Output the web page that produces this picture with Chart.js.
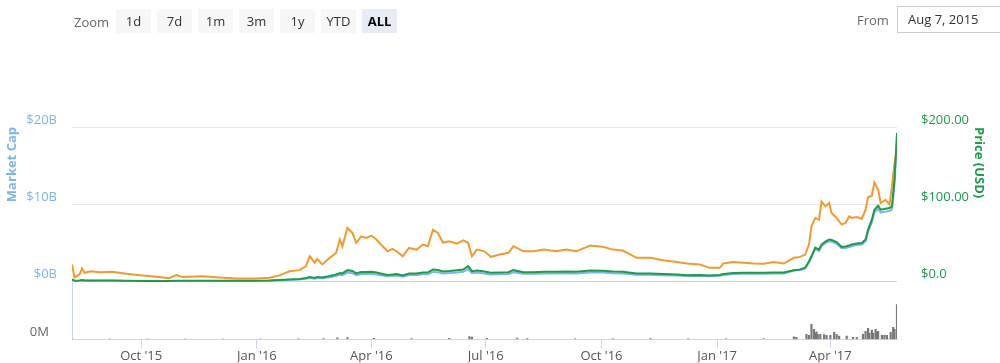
<!DOCTYPE html>
<html>
<head>
<meta charset="utf-8">
<title>Ethereum market cap</title>
<script src="https://cdn.jsdelivr.net/npm/chart.js@4.4.1/dist/chart.umd.min.js"></script>
<style>
  body { margin: 0; background: #fff; font-family: "Open Sans", sans-serif; }
  #wrap { position: relative; width: 1000px; height: 363px; overflow: hidden; }
  #ethChart { position: absolute; left: 0; top: 0; }
  .zoom-label { position: absolute; left: 74px; top: 10px; font-size: 13px; color: #666; line-height: 24px; }
  .btn { position: absolute; top: 9px; width: 35px; height: 24px; line-height: 24px; text-align: center;
         background: #f7f7f7; color: #333; font-size: 13px; }
  .btn.active { background: #e6ebf5; color: #000; font-weight: bold; }
  .from-label { position: absolute; left: 857px; top: 8px; font-size: 13px; color: #666; line-height: 24px; }
  .from-box { position: absolute; left: 897px; top: 6px; width: 120px; height: 25px; border: 1px solid #ccc;
              font-size: 13px; color: #333; line-height: 25px; padding-left: 10px; }
</style>
</head>
<body>
<div id="wrap">
  <canvas id="ethChart" width="1000" height="363"></canvas>
  <div class="zoom-label">Zoom</div>
  <div class="btn" style="left:116px">1d</div>
  <div class="btn" style="left:157px">7d</div>
  <div class="btn" style="left:198px">1m</div>
  <div class="btn" style="left:239px">3m</div>
  <div class="btn" style="left:280px">1y</div>
  <div class="btn" style="left:321px">YTD</div>
  <div class="btn active" style="left:362px">ALL</div>
  <div class="from-label">From</div>
  <div class="from-box">Aug 7, 2015</div>
</div>
<script>
// days since Aug 7, 2015
const days = [
  0, 2, 6, 8, 10, 15, 22, 32, 43, 56,
  69, 77, 83, 88, 104, 117, 130, 146, 157, 165,
  173, 181, 186, 189, 193, 195, 199, 205, 210, 213,
  215, 219, 223, 226, 230, 234, 238, 242, 247, 251,
  255, 258, 263, 268, 274, 279, 283, 287, 291, 295,
  300, 306, 311, 315, 318, 322, 328, 333, 340, 347,
  351, 359, 367, 375, 385, 393, 401, 412, 422, 430,
  438, 449, 460, 470, 481, 489, 499, 507, 515, 518,
  526, 534, 542, 550, 558, 566, 574, 579, 583, 586,
  588, 591, 594, 596, 599, 602, 604, 608, 612, 615,
  618, 620, 624, 628, 631, 633, 636, 638, 641, 643,
  647, 650, 652, 654, 656
];

// USD
const priceUsd = [
  2.84, 0.77, 1.29, 1.94, 1.29, 1.29, 1.29, 1.29, 0.90, 0.65,
  0.65, 0.52, 0.90, 0.77, 0.90, 0.90, 0.90, 0.90, 1.29, 1.94,
  2.58, 3.23, 4.52, 5.81, 4.52, 5.81, 5.16, 7.10, 9.03, 10.97,
  10.32, 14.58, 13.55, 10.32, 12.26, 12.26, 12.52, 11.61, 9.68, 8.39,
  9.03, 9.68, 7.74, 10.32, 10.32, 11.61, 11.61, 15.48, 14.84, 12.90,
  13.55, 14.58, 15.48, 19.74, 13.29, 14.19, 12.90, 11.23, 11.61, 12.00,
  14.58, 12.00, 12.00, 12.52, 12.52, 12.90, 12.52, 14.19, 13.81, 12.90,
  12.52, 10.32, 10.32, 9.68, 9.03, 8.13, 8.39, 7.74, 8.39, 9.68,
  10.97, 11.23, 11.23, 11.23, 11.61, 11.61, 14.58, 15.48, 17.68, 25.81,
  32.65, 43.87, 41.29, 47.74, 51.61, 54.19, 53.55, 50.97, 44.77, 45.16,
  46.45, 47.74, 49.03, 49.68, 54.19, 67.10, 80.00, 92.90, 98.06, 92.90,
  94.19, 95.10, 97.16, 131.6, 192.3
];

// BTC
const priceBtc = [
  0.0110, 0.0026, 0.0045, 0.0084, 0.0056, 0.0066, 0.0060, 0.0063, 0.0050, 0.0039,
  0.0028, 0.0021, 0.0041, 0.0028, 0.0034, 0.0026, 0.0019, 0.0019, 0.0024, 0.0039,
  0.0066, 0.0073, 0.0099, 0.0163, 0.0121, 0.0146, 0.0110, 0.0153, 0.0185, 0.0271,
  0.0228, 0.0346, 0.0314, 0.0250, 0.0292, 0.0282, 0.0297, 0.0271, 0.0228, 0.0195,
  0.0211, 0.0195, 0.0163, 0.0217, 0.0206, 0.0239, 0.0228, 0.0335, 0.0314, 0.0250,
  0.0260, 0.0245, 0.0266, 0.0250, 0.0163, 0.0206, 0.0195, 0.0159, 0.0174, 0.0185,
  0.0228, 0.0195, 0.0195, 0.0206, 0.0195, 0.0206, 0.0195, 0.0232, 0.0224, 0.0206,
  0.0200, 0.0153, 0.0153, 0.0137, 0.0125, 0.0116, 0.0110, 0.0088, 0.0088, 0.0116,
  0.0125, 0.0121, 0.0116, 0.0114, 0.0125, 0.0116, 0.0153, 0.0159, 0.0174, 0.0239,
  0.0357, 0.0411, 0.0400, 0.0518, 0.0486, 0.0508, 0.0443, 0.0411, 0.0368, 0.0379,
  0.0421, 0.0411, 0.0417, 0.0405, 0.0465, 0.0546, 0.0555, 0.0641, 0.0594, 0.0508,
  0.0529, 0.0497, 0.0615, 0.0766, 0.0852
];

// billions USD
const marketCap = [
  0.20, 0.06, 0.09, 0.14, 0.09, 0.09, 0.09, 0.10, 0.07, 0.05,
  0.05, 0.04, 0.07, 0.06, 0.07, 0.07, 0.07, 0.07, 0.10, 0.15,
  0.20, 0.25, 0.35, 0.45, 0.35, 0.45, 0.40, 0.55, 0.70, 0.85,
  0.80, 1.14, 1.06, 0.81, 0.96, 0.96, 0.98, 0.91, 0.76, 0.66,
  0.71, 0.76, 0.61, 0.82, 0.82, 0.92, 0.92, 1.23, 1.18, 1.03,
  1.08, 1.17, 1.24, 1.58, 1.07, 1.14, 1.04, 0.91, 0.94, 0.97,
  1.18, 0.98, 0.98, 1.02, 1.03, 1.06, 1.03, 1.17, 1.14, 1.07,
  1.04, 0.86, 0.86, 0.81, 0.76, 0.69, 0.71, 0.66, 0.72, 0.83,
  0.95, 0.98, 0.98, 0.98, 1.02, 1.02, 1.40, 1.49, 1.70, 2.48,
  3.13, 4.21, 3.96, 4.58, 4.95, 5.20, 5.14, 4.89, 4.30, 4.34,
  4.46, 4.58, 4.71, 4.77, 5.20, 6.44, 7.68, 8.92, 9.41, 8.92,
  9.04, 9.13, 9.33, 12.63, 18.46
];

// 24h volume, millions USD
const volDays = [
  0, 30, 60, 90, 120, 150, 180, 200, 211, 219,
  240, 270, 300, 316, 318, 330, 354, 362, 400, 430,
  460, 490, 520, 550, 574, 576, 584, 586, 588, 590,
  591, 592, 593, 595, 598, 600, 603, 606, 608, 610,
  616, 621, 624, 629, 631, 633, 634, 636, 637, 639,
  640, 641, 644, 646, 648, 651, 653, 654, 656
];
const volume = [
  0.4, 1.2, 1.5, 0.8, 1.0, 3, 12, 25, 60, 70,
  40, 25, 35, 110, 90, 40, 45, 30, 15, 20,
  25, 15, 20, 25, 100, 85, 215, 170, 645, 430,
  260, 320, 215, 215, 195, 170, 170, 300, 215, 130,
  130, 85, 85, 215, 345, 475, 260, 390, 260, 430,
  300, 345, 170, 170, 170, 300, 515, 430, 1500
];

const tickDays = [55, 147, 238, 329, 421, 513, 603];
const tickLabels = ["Oct '15", "Jan '16", "Apr '16", "Jul '16", "Oct '16", "Jan '17", "Apr '17"];
const capTicks = [0, 10, 20];
const priceTicks = [0, 100, 200];

const TOP_PANEL = 155;   // price panel height share
const VOL_PANEL = 58;    // volume panel height share
const PRICE_MAX = 200;
const BTC_MAX = 0.1;

const BLUE = '#7cb5ec';
const GREEN = '#1f9a4b';
const ORANGE = '#f39a2f';
const AXIS = '#ccd6eb';

const pts = (xs, ys) => xs.map((x, i) => ({ x: x, y: ys[i] }));
const baseFont = { family: 'Open Sans', size: 13 };

new Chart(document.getElementById('ethChart'), {
    data: {
        datasets: [
            { type: 'line', label: 'Price (USD)', data: pts(days, priceUsd), yAxisID: 'yPrice',
              borderColor: GREEN, borderWidth: 2, pointRadius: 0 },
            { type: 'line', label: 'Price (BTC)', data: pts(days, priceBtc), yAxisID: 'yBtc',
              borderColor: ORANGE, borderWidth: 2, pointRadius: 0 },
            { type: 'line', label: 'Market Cap', data: pts(days, marketCap), yAxisID: 'yCap',
              borderColor: BLUE, borderWidth: 2, pointRadius: 0 },
            { type: 'bar', label: '24h Vol', data: pts(volDays, volume), yAxisID: 'yVol',
              backgroundColor: '#777', barThickness: 1.5 },
        ],
    },
    options: {
        responsive: false,
        animation: false,
        layout: { padding: { top: 127 } },
        plugins: { legend: { display: false }, tooltip: { enabled: false } },
        scales: {
            x: {
                type: 'linear', min: 0, max: 656, offset: false,
                afterBuildTicks: s => { s.ticks = tickDays.map(v => ({ value: v })); },
                afterFit: s => { s.height = 23; },
                ticks: { autoSkip: false, maxRotation: 0, padding: 0, color: '#555', font: baseFont,
                         callback: (v, i) => tickLabels[i] },
                grid: { offset: false, drawOnChartArea: false, tickLength: 9, color: AXIS },
                border: { color: AXIS },
            },
            yCap: {
                position: 'left', stack: 'left', stackWeight: TOP_PANEL, weight: 1,
                min: 0, max: 20,
                afterBuildTicks: s => { s.ticks = capTicks.map(v => ({ value: v })); },
                afterFit: s => { s.width = 72; },
                ticks: { color: BLUE, font: baseFont, padding: 15, labelOffset: -7,
                         callback: v => '$' + v + 'B' },
                grid: { drawTicks: false, color: c => (c.tick && c.tick.value === 0) ? '#d0d0d0' : '#e6e6e6' },
                border: { display: false },
                title: { display: true, text: 'Market Cap', align: 'end', color: BLUE,
                         font: { family: 'Open Sans', size: 13, weight: 'bold' }, padding: { top: 4, bottom: 0 } },
            },
            yVol: {
                position: 'left', stack: 'left', stackWeight: VOL_PANEL, weight: 0,
                min: 0, max: 2500,
                afterBuildTicks: s => { s.ticks = [{ value: 0 }]; },
                afterFit: s => { s.width = 72; },
                ticks: { color: '#666', font: baseFont, padding: 15, labelOffset: -7, callback: () => '0M' },
                grid: { display: false },
                border: { display: true, color: AXIS },
            },
            yPrice: {
                position: 'right',
                min: -PRICE_MAX * VOL_PANEL / TOP_PANEL, max: PRICE_MAX,
                afterBuildTicks: s => { s.ticks = priceTicks.map(v => ({ value: v })); },
                afterFit: s => { s.width = 103; },
                ticks: { color: GREEN, font: baseFont, padding: 16, labelOffset: -7,
                         callback: v => '$' + (v === 0 ? '0.0' : v.toFixed(2)) },
                grid: { display: false },
                border: { display: false },
                title: { display: true, text: 'Price (USD)', align: 'end', color: GREEN,
                         font: { family: 'Open Sans', size: 13, weight: 'bold' }, padding: { top: 13, bottom: 0 } },
            },
            yBtc: {
                position: 'right', display: false,
                min: -BTC_MAX * VOL_PANEL / TOP_PANEL, max: BTC_MAX,
            },
        },
    },
});
</script>
</body>
</html>
